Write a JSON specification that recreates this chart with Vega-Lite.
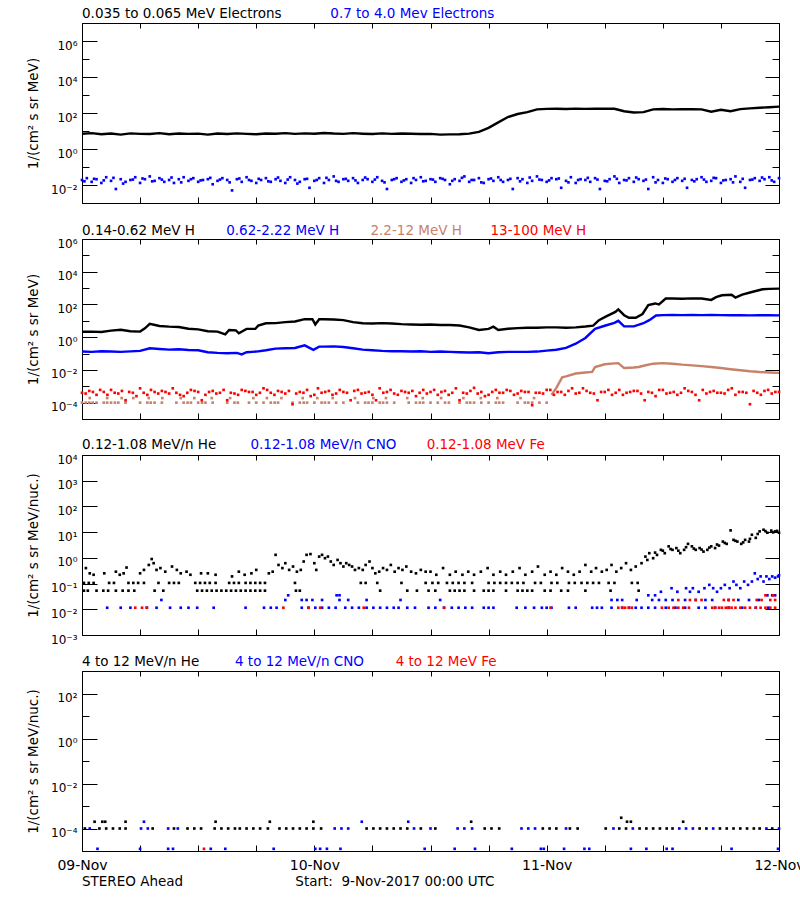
{
"$schema": "https://vega.github.io/schema/vega-lite/v6.json",
"background": "white",
"padding": {"left": 26, "top": 6, "right": 0, "bottom": 0},
"autosize": {"type": "pad"},
"spacing": 36,
"bounds": "flush",
"datasets": {
"a1": [{"h":0,"v":7.1},{"h":1,"v":7.6},{"h":2,"v":6.6},{"h":3,"v":7.2},{"h":4,"v":6.3},{"h":5,"v":7.4},{"h":6,"v":6.9},{"h":7,"v":6.8},{"h":8,"v":7.6},{"h":9,"v":6.6},{"h":10,"v":7.2},{"h":11,"v":6.9},{"h":12,"v":7.1},{"h":13,"v":6.3},{"h":14,"v":7.2},{"h":15,"v":6.8},{"h":16,"v":7.4},{"h":17,"v":6.9},{"h":18,"v":6.6},{"h":19,"v":7.2},{"h":20,"v":7.1},{"h":21,"v":7.6},{"h":22,"v":6.9},{"h":23,"v":7.4},{"h":24,"v":7.1},{"h":25,"v":7.8},{"h":26,"v":7.2},{"h":27,"v":6.9},{"h":28,"v":7.6},{"h":29,"v":7.1},{"h":30,"v":6.8},{"h":31,"v":7.4},{"h":32,"v":6.9},{"h":33,"v":7.2},{"h":34,"v":7.1},{"h":35,"v":6.8},{"h":36,"v":6.9},{"h":37,"v":6.3},{"h":38,"v":6.5},{"h":39,"v":6.6},{"h":40,"v":7.1},{"h":41,"v":9},{"h":42,"v":15},{"h":43,"v":30},{"h":44,"v":60},{"h":45,"v":88},{"h":46,"v":112},{"h":47,"v":160},{"h":48,"v":170},{"h":49,"v":172},{"h":50,"v":168},{"h":51,"v":175},{"h":52,"v":170},{"h":53,"v":173},{"h":54,"v":176},{"h":55,"v":172},{"h":56,"v":125},{"h":57,"v":107},{"h":58,"v":112},{"h":59,"v":160},{"h":60,"v":166},{"h":61,"v":160},{"h":62,"v":163},{"h":63,"v":165},{"h":64,"v":160},{"h":65,"v":118},{"h":66,"v":150},{"h":67,"v":125},{"h":68,"v":165},{"h":69,"v":180},{"h":70,"v":195},{"h":71,"v":210},{"h":72,"v":225}],
"a2": [{"h":0,"v":0.019},{"h":0.5,"v":0.024},{"h":1,"v":0.015},{"h":1.5,"v":0.021},{"h":2,"v":0.013},{"h":2.5,"v":0.027},{"h":3,"v":0.017},{"h":3.5,"v":0.006},{"h":4,"v":0.021},{"h":4.5,"v":0.015},{"h":5,"v":0.019},{"h":5.5,"v":0.027},{"h":6,"v":0.013},{"h":6.5,"v":0.021},{"h":7,"v":0.03},{"h":7.5,"v":0.017},{"h":8,"v":0.024},{"h":8.5,"v":0.015},{"h":9,"v":0.019},{"h":9.5,"v":0.013},{"h":10,"v":0.021},{"h":10.5,"v":0.027},{"h":11,"v":0.017},{"h":11.5,"v":0.024},{"h":12,"v":0.015},{"h":12.5,"v":0.019},{"h":13,"v":0.021},{"h":13.5,"v":0.011},{"h":14,"v":0.017},{"h":14.5,"v":0.024},{"h":15,"v":0.019},{"h":15.5,"v":0.005},{"h":16,"v":0.021},{"h":16.5,"v":0.015},{"h":17,"v":0.027},{"h":17.5,"v":0.017},{"h":18,"v":0.013},{"h":18.5,"v":0.019},{"h":19,"v":0.024},{"h":19.5,"v":0.015},{"h":20,"v":0.021},{"h":20.5,"v":0.017},{"h":21,"v":0.013},{"h":21.5,"v":0.027},{"h":22,"v":0.019},{"h":22.5,"v":0.015},{"h":23,"v":0.021},{"h":23.5,"v":0.007},{"h":24,"v":0.017},{"h":24.5,"v":0.024},{"h":25,"v":0.013},{"h":25.5,"v":0.019},{"h":26,"v":0.03},{"h":26.5,"v":0.015},{"h":27,"v":0.021},{"h":27.5,"v":0.017},{"h":28,"v":0.024},{"h":28.5,"v":0.013},{"h":29,"v":0.019},{"h":29.5,"v":0.021},{"h":30,"v":0.015},{"h":30.5,"v":0.027},{"h":31,"v":0.017},{"h":31.5,"v":0.006},{"h":32,"v":0.019},{"h":32.5,"v":0.024},{"h":33,"v":0.015},{"h":33.5,"v":0.021},{"h":34,"v":0.013},{"h":34.5,"v":0.019},{"h":35,"v":0.027},{"h":35.5,"v":0.017},{"h":36,"v":0.021},{"h":36.5,"v":0.015},{"h":37,"v":0.024},{"h":37.5,"v":0.019},{"h":38,"v":0.011},{"h":38.5,"v":0.021},{"h":39,"v":0.017},{"h":39.5,"v":0.03},{"h":40,"v":0.015},{"h":40.5,"v":0.019},{"h":41,"v":0.024},{"h":41.5,"v":0.013},{"h":42,"v":0.021},{"h":42.5,"v":0.017},{"h":43,"v":0.027},{"h":43.5,"v":0.015},{"h":44,"v":0.019},{"h":44.5,"v":0.006},{"h":45,"v":0.024},{"h":45.5,"v":0.021},{"h":46,"v":0.013},{"h":46.5,"v":0.017},{"h":47,"v":0.03},{"h":47.5,"v":0.019},{"h":48,"v":0.015},{"h":48.5,"v":0.024},{"h":49,"v":0.021},{"h":49.5,"v":0.007},{"h":50,"v":0.017},{"h":50.5,"v":0.027},{"h":51,"v":0.013},{"h":51.5,"v":0.021},{"h":52,"v":0.019},{"h":52.5,"v":0.015},{"h":53,"v":0.024},{"h":53.5,"v":0.006},{"h":54,"v":0.017},{"h":54.5,"v":0.021},{"h":55,"v":0.03},{"h":55.5,"v":0.013},{"h":56,"v":0.019},{"h":56.5,"v":0.024},{"h":57,"v":0.015},{"h":57.5,"v":0.021},{"h":58,"v":0.017},{"h":58.5,"v":0.006},{"h":59,"v":0.027},{"h":59.5,"v":0.019},{"h":60,"v":0.013},{"h":60.5,"v":0.021},{"h":61,"v":0.015},{"h":61.5,"v":0.024},{"h":62,"v":0.017},{"h":62.5,"v":0.007},{"h":63,"v":0.019},{"h":63.5,"v":0.021},{"h":64,"v":0.027},{"h":64.5,"v":0.015},{"h":65,"v":0.017},{"h":65.5,"v":0.024},{"h":66,"v":0.013},{"h":66.5,"v":0.019},{"h":67,"v":0.021},{"h":67.5,"v":0.03},{"h":68,"v":0.015},{"h":68.5,"v":0.007},{"h":69,"v":0.019},{"h":69.5,"v":0.024},{"h":70,"v":0.017},{"h":70.5,"v":0.021},{"h":71,"v":0.027},{"h":71.5,"v":0.015},{"h":72,"v":0.024},
{"h":0.25,"v":0.016},{"h":1.25,"v":0.022},{"h":2.25,"v":0.018},{"h":3.25,"v":0.025},{"h":4.25,"v":0.012},{"h":5.25,"v":0.02},{"h":6.25,"v":0.023},{"h":7.25,"v":0.016},{"h":8.25,"v":0.02},{"h":9.25,"v":0.026},{"h":10.25,"v":0.014},{"h":11.25,"v":0.021},{"h":12.25,"v":0.018},{"h":13.25,"v":0.025},{"h":14.25,"v":0.02},{"h":15.25,"v":0.014},{"h":16.25,"v":0.023},{"h":17.25,"v":0.019},{"h":18.25,"v":0.022},{"h":19.25,"v":0.016},{"h":20.25,"v":0.026},{"h":21.25,"v":0.02},{"h":22.25,"v":0.012},{"h":23.25,"v":0.022},{"h":24.25,"v":0.019},{"h":25.25,"v":0.025},{"h":26.25,"v":0.017},{"h":27.25,"v":0.022},{"h":28.25,"v":0.018},{"h":29.25,"v":0.026},{"h":30.25,"v":0.02},{"h":31.25,"v":0.014},{"h":32.25,"v":0.021},{"h":33.25,"v":0.018},{"h":34.25,"v":0.024},{"h":35.25,"v":0.016},{"h":36.25,"v":0.02},{"h":37.25,"v":0.022},{"h":38.25,"v":0.017},{"h":39.25,"v":0.025},{"h":40.25,"v":0.019},{"h":41.25,"v":0.014},{"h":42.25,"v":0.023},{"h":43.25,"v":0.019},{"h":44.25,"v":0.022},{"h":45.25,"v":0.016},{"h":46.25,"v":0.026},{"h":47.25,"v":0.02},{"h":48.25,"v":0.018},{"h":49.25,"v":0.023},{"h":50.25,"v":0.014},{"h":51.25,"v":0.019},{"h":52.25,"v":0.025},{"h":53.25,"v":0.02},{"h":54.25,"v":0.016},{"h":55.25,"v":0.022},{"h":56.25,"v":0.018},{"h":57.25,"v":0.026},{"h":58.25,"v":0.02},{"h":59.25,"v":0.014},{"h":60.25,"v":0.023},{"h":61.25,"v":0.019},{"h":62.25,"v":0.022},{"h":63.25,"v":0.016},{"h":64.25,"v":0.02},{"h":65.25,"v":0.025},{"h":66.25,"v":0.018},{"h":67.25,"v":0.014},{"h":68.25,"v":0.022},{"h":69.25,"v":0.02},{"h":70.25,"v":0.026},{"h":71.25,"v":0.018}],
"b1": [{"h":0,"v":2.14},{"h":1,"v":2.19},{"h":2,"v":2.09},{"h":3,"v":2.51},{"h":4,"v":2.82},{"h":5,"v":2.29},{"h":6,"v":2.19},{"h":6.5,"v":3.5},{"h":7,"v":6.6},{"h":8,"v":4.8},{"h":9,"v":4.4},{"h":10,"v":4.2},{"h":11,"v":3.3},{"h":12,"v":3.0},{"h":13,"v":2.3},{"h":14,"v":2.2},{"h":14.8,"v":1.5},{"h":15.2,"v":2.75},{"h":15.9,"v":2.6},{"h":16.2,"v":1.74},{"h":17,"v":3.2},{"h":17.9,"v":3.2},{"h":18.2,"v":5.1},{"h":19,"v":7.1},{"h":20,"v":7.2},{"h":21,"v":8.3},{"h":22,"v":9.1},{"h":23,"v":12.6},{"h":23.8,"v":12.6},{"h":24.1,"v":6.0},{"h":24.5,"v":12.6},{"h":25,"v":12.6},{"h":26,"v":12.0},{"h":27,"v":11.0},{"h":28,"v":8.3},{"h":29,"v":7.1},{"h":30,"v":6.9},{"h":31,"v":7.2},{"h":32,"v":6.9},{"h":33,"v":6.3},{"h":34,"v":6.0},{"h":35,"v":5.8},{"h":36,"v":6.0},{"h":37,"v":5.5},{"h":38,"v":5.5},{"h":39,"v":5.2},{"h":40,"v":4.0},{"h":41,"v":2.75},{"h":42,"v":3.2},{"h":42.5,"v":4.4},{"h":43,"v":2.75},{"h":44,"v":3.3},{"h":45,"v":3.6},{"h":46,"v":3.8},{"h":47,"v":3.8},{"h":48,"v":4.0},{"h":49,"v":4.0},{"h":50,"v":3.8},{"h":51,"v":4.0},{"h":52,"v":4.5},{"h":52.8,"v":5.1},{"h":53.4,"v":11},{"h":54.1,"v":18},{"h":55.1,"v":35},{"h":55.4,"v":50},{"h":56,"v":22},{"h":56.5,"v":15.5},{"h":57.2,"v":15.5},{"h":57.9,"v":26},{"h":58.5,"v":91},{"h":59.2,"v":115},{"h":59.6,"v":100},{"h":60.3,"v":229},{"h":61,"v":229},{"h":62,"v":224},{"h":63,"v":235},{"h":64,"v":229},{"h":65,"v":190},{"h":65.5,"v":280},{"h":66.1,"v":363},{"h":67.1,"v":390},{"h":67.5,"v":263},{"h":68.2,"v":400},{"h":69.2,"v":575},{"h":70.3,"v":850},{"h":71,"v":890},{"h":72,"v":933}],
"b2": [{"h":0,"v":0.132},{"h":1,"v":0.126},{"h":2,"v":0.138},{"h":3,"v":0.132},{"h":4,"v":0.126},{"h":5,"v":0.135},{"h":6,"v":0.145},{"h":7,"v":0.209},{"h":8,"v":0.191},{"h":9,"v":0.174},{"h":10,"v":0.182},{"h":11,"v":0.166},{"h":12,"v":0.158},{"h":13,"v":0.12},{"h":14,"v":0.11},{"h":15,"v":0.105},{"h":16,"v":0.11},{"h":16.5,"v":0.089},{"h":17,"v":0.12},{"h":18,"v":0.132},{"h":19,"v":0.158},{"h":20,"v":0.2},{"h":21,"v":0.209},{"h":22,"v":0.219},{"h":23,"v":0.316},{"h":23.9,"v":0.17},{"h":24.5,"v":0.263},{"h":25,"v":0.263},{"h":26,"v":0.275},{"h":27,"v":0.251},{"h":28,"v":0.209},{"h":29,"v":0.174},{"h":30,"v":0.158},{"h":31,"v":0.145},{"h":32,"v":0.138},{"h":33,"v":0.138},{"h":34,"v":0.132},{"h":35,"v":0.138},{"h":36,"v":0.126},{"h":37,"v":0.132},{"h":38,"v":0.126},{"h":39,"v":0.12},{"h":40,"v":0.115},{"h":41,"v":0.12},{"h":42,"v":0.105},{"h":43,"v":0.12},{"h":44,"v":0.126},{"h":45,"v":0.126},{"h":46,"v":0.126},{"h":47,"v":0.132},{"h":48,"v":0.15},{"h":49,"v":0.17},{"h":50,"v":0.22},{"h":51,"v":0.4},{"h":52,"v":0.9},{"h":53,"v":3.2},{"h":54,"v":5.0},{"h":55,"v":7.5},{"h":55.4,"v":10},{"h":56,"v":4.6},{"h":57,"v":4.6},{"h":58,"v":7.1},{"h":58.6,"v":11},{"h":59.3,"v":21},{"h":60,"v":22.4},{"h":61,"v":22.9},{"h":62,"v":22.4},{"h":63,"v":22.9},{"h":64,"v":22.4},{"h":65,"v":22.9},{"h":66,"v":22.4},{"h":67,"v":21.9},{"h":68,"v":22.4},{"h":69,"v":21.4},{"h":70,"v":21.9},{"h":71,"v":21.9},{"h":72,"v":21.4}],
"b3d": [{"h":0,"v":0.0001},{"h":0.75,"v":0.0001},{"h":1.5,"v":0.0001},{"h":2.25,"v":0.0001},{"h":3,"v":0.0001},{"h":3.75,"v":0.0001},{"h":4.5,"v":0.0001},{"h":6,"v":0.0001},{"h":6.75,"v":0.0001},{"h":7.5,"v":0.0001},{"h":8.25,"v":0.0001},{"h":9.75,"v":0.0001},{"h":10.5,"v":0.0001},{"h":11.25,"v":0.0001},{"h":12,"v":0.0001},{"h":12.75,"v":0.0001},{"h":13.5,"v":0.0001},{"h":15,"v":0.0001},{"h":15.75,"v":0.0001},{"h":17.25,"v":0.0001},{"h":18,"v":0.0001},{"h":18.75,"v":0.0001},{"h":19.5,"v":0.0001},{"h":20.25,"v":0.0001},{"h":21.75,"v":0.0001},{"h":22.5,"v":0.0001},{"h":23.25,"v":0.0001},{"h":24,"v":0.0001},{"h":24.75,"v":0.0001},{"h":25.5,"v":0.0001},{"h":26.25,"v":0.0001},{"h":27,"v":0.0001},{"h":28.5,"v":0.0001},{"h":29.25,"v":0.0001},{"h":30,"v":0.0001},{"h":30.75,"v":0.0001},{"h":31.5,"v":0.0001},{"h":32.25,"v":0.0001},{"h":33.75,"v":0.0001},{"h":34.5,"v":0.0001},{"h":35.25,"v":0.0001},{"h":36,"v":0.0001},{"h":36.75,"v":0.0001},{"h":37.5,"v":0.0001},{"h":39,"v":0.0001},{"h":39.75,"v":0.0001},{"h":40.5,"v":0.0001},{"h":41.25,"v":0.0001},{"h":42,"v":0.0001},{"h":42.75,"v":0.0001},{"h":43.5,"v":0.0001},{"h":45,"v":0.0001},{"h":45.75,"v":0.0001},{"h":46.5,"v":0.0001},{"h":47.25,"v":0.0001},{"h":48,"v":0.0001},{"h":0.4,"v":0.0001},{"h":1.1,"v":0.0001},{"h":2.6,"v":0.0001},{"h":3.4,"v":0.0001},{"h":7.1,"v":0.0001},{"h":10.9,"v":0.0001},{"h":12.4,"v":0.0001},{"h":16.1,"v":0.0001},{"h":19.9,"v":0.0001},{"h":22.9,"v":0.0001},{"h":25.1,"v":0.0001},{"h":29.6,"v":0.0001},{"h":31.1,"v":0.0001},{"h":34.9,"v":0.0001},{"h":37.9,"v":0.0001},{"h":40.1,"v":0.0001},{"h":43.1,"v":0.0001},{"h":46.1,"v":0.0001},{"h":0.8,"v":0.00019},{"h":2.6,"v":0.00019},{"h":4.1,"v":0.00019},{"h":5.3,"v":0.00019},{"h":6.9,"v":0.00019},{"h":8.3,"v":0.00019},{"h":10.2,"v":0.00019},{"h":11.6,"v":0.00019},{"h":13.4,"v":0.00019},{"h":15.3,"v":0.00019},{"h":17.7,"v":0.00019},{"h":19.1,"v":0.00019},{"h":20.6,"v":0.00019},{"h":22.8,"v":0.00019},{"h":24.3,"v":0.00019},{"h":25.9,"v":0.00019},{"h":28.2,"v":0.00019},{"h":30.1,"v":0.00019},{"h":31.4,"v":0.00019},{"h":33.6,"v":0.00019},{"h":35.2,"v":0.00019},{"h":37.1,"v":0.00019},{"h":39.4,"v":0.00019},{"h":41.2,"v":0.00019},{"h":42.9,"v":0.00019},{"h":45.3,"v":0.00019},{"h":46.7,"v":0.00019}],
"b3l": [{"h":48.5,"v":0.0003},{"h":49,"v":0.0008},{"h":49.6,"v":0.0035},{"h":50,"v":0.004},{"h":51,"v":0.006},{"h":52,"v":0.007},{"h":52.7,"v":0.0075},{"h":53,"v":0.015},{"h":54,"v":0.022},{"h":55,"v":0.025},{"h":55.4,"v":0.026},{"h":56,"v":0.013},{"h":57,"v":0.014},{"h":57.5,"v":0.015},{"h":58,"v":0.018},{"h":59,"v":0.024},{"h":60,"v":0.026},{"h":61,"v":0.024},{"h":62,"v":0.021},{"h":63,"v":0.019},{"h":64,"v":0.017},{"h":65,"v":0.015},{"h":66,"v":0.013},{"h":67,"v":0.011},{"h":68,"v":0.0095},{"h":69,"v":0.0083},{"h":70,"v":0.0075},{"h":71,"v":0.007},{"h":72,"v":0.0066}],
"b4": [{"h":0,"v":0.0004},{"h":0.75,"v":0.00052},{"h":1.5,"v":0.0003},{"h":2.25,"v":0.00045},{"h":3,"v":0.0006},{"h":3.75,"v":0.00036},{"h":4.5,"v":0.00014},{"h":5.25,"v":0.0004},{"h":6,"v":0.00075},{"h":6.75,"v":0.0003},{"h":7.5,"v":0.00045},{"h":8.25,"v":0.00052},{"h":9,"v":0.00036},{"h":9.75,"v":0.0004},{"h":10.5,"v":0.00025},{"h":11.25,"v":0.0006},{"h":12,"v":0.00045},{"h":12.75,"v":0.0003},{"h":13.5,"v":0.00052},{"h":14.25,"v":0.0004},{"h":15,"v":0.00014},{"h":15.75,"v":0.00036},{"h":16.5,"v":0.0006},{"h":17.25,"v":0.00045},{"h":18,"v":0.0003},{"h":18.75,"v":0.00075},{"h":19.5,"v":0.0004},{"h":20.25,"v":0.00052},{"h":21,"v":0.00036},{"h":21.75,"v":0.00008},{"h":22.5,"v":0.00045},{"h":23.25,"v":0.0006},{"h":24,"v":0.0003},{"h":24.75,"v":0.0004},{"h":25.5,"v":0.00052},{"h":26.25,"v":0.00036},{"h":27,"v":0.00045},{"h":27.75,"v":0.00014},{"h":28.5,"v":0.0006},{"h":29.25,"v":0.0004},{"h":30,"v":0.0003},{"h":30.75,"v":0.00075},{"h":31.5,"v":0.00045},{"h":32.25,"v":0.00036},{"h":33,"v":0.00052},{"h":33.75,"v":0.0004},{"h":34.5,"v":0.00025},{"h":35.25,"v":0.0006},{"h":36,"v":0.00045},{"h":36.75,"v":0.0003},{"h":37.5,"v":0.00052},{"h":38.25,"v":0.0004},{"h":39,"v":0.00014},{"h":39.75,"v":0.00036},{"h":40.5,"v":0.0008},{"h":41.25,"v":0.00045},{"h":42,"v":0.0003},{"h":42.75,"v":0.0006},{"h":43.5,"v":0.0004},{"h":44.25,"v":0.00052},{"h":45,"v":0.00036},{"h":45.75,"v":0.00045},{"h":46.5,"v":0.00007},{"h":47.25,"v":0.0004},{"h":48,"v":0.0006},{"h":48.75,"v":0.0003},{"h":49.5,"v":0.00045},{"h":50.25,"v":0.00052},{"h":51,"v":0.00036},{"h":51.75,"v":0.00075},{"h":52.5,"v":0.0004},{"h":53.25,"v":0.00014},{"h":54,"v":0.00045},{"h":54.75,"v":0.0003},{"h":55.5,"v":0.0006},{"h":56.25,"v":0.0004},{"h":57,"v":0.00052},{"h":57.75,"v":0.00036},{"h":58.5,"v":0.00045},{"h":59.25,"v":0.00025},{"h":60,"v":0.0006},{"h":60.75,"v":0.0004},{"h":61.5,"v":0.0003},{"h":62.25,"v":0.00075},{"h":63,"v":0.00045},{"h":63.75,"v":0.00014},{"h":64.5,"v":0.00036},{"h":65.25,"v":0.00052},{"h":66,"v":0.0004},{"h":66.75,"v":0.0006},{"h":67.5,"v":0.0003},{"h":68.25,"v":0.00045},{"h":69,"v":0.00008},{"h":69.75,"v":0.0004},{"h":70.5,"v":0.00052},{"h":71.25,"v":0.00036},{"h":72,"v":0.00045},
{"h":0.375,"v":0.00036},{"h":1.125,"v":0.00045},{"h":1.875,"v":0.0006},{"h":2.625,"v":0.0003},{"h":3.375,"v":0.0004},{"h":4.125,"v":0.00052},{"h":4.875,"v":0.00045},{"h":5.625,"v":0.00025},{"h":6.375,"v":0.0004},{"h":7.125,"v":0.0006},{"h":7.875,"v":0.00036},{"h":8.625,"v":0.00045},{"h":9.375,"v":0.00075},{"h":10.125,"v":0.0003},{"h":10.875,"v":0.0004},{"h":11.625,"v":0.00052},{"h":12.375,"v":0.00014},{"h":13.125,"v":0.00045},{"h":13.875,"v":0.00036},{"h":14.625,"v":0.0006},{"h":15.375,"v":0.0004},{"h":16.125,"v":0.0003},{"h":16.875,"v":0.00052},{"h":17.625,"v":0.00045},{"h":18.375,"v":0.0004},{"h":19.125,"v":0.0006},{"h":19.875,"v":0.0003},{"h":20.625,"v":0.00045},{"h":21.375,"v":0.00052},{"h":22.125,"v":0.00036},{"h":22.875,"v":0.0004},{"h":23.625,"v":0.00025},{"h":24.375,"v":0.00075},{"h":25.125,"v":0.00045},{"h":25.875,"v":0.0003},{"h":26.625,"v":0.0006},{"h":27.375,"v":0.0004},{"h":28.125,"v":0.00052},{"h":28.875,"v":0.00036},{"h":29.625,"v":0.00045},{"h":30.375,"v":0.00014},{"h":31.125,"v":0.0004},{"h":31.875,"v":0.0006},{"h":32.625,"v":0.0003},{"h":33.375,"v":0.00045},{"h":34.125,"v":0.00052},{"h":34.875,"v":0.0004},{"h":35.625,"v":0.00036},{"h":36.375,"v":0.0006},{"h":37.125,"v":0.00045},{"h":37.875,"v":0.0003},{"h":38.625,"v":0.00075},{"h":39.375,"v":0.0004},{"h":40.125,"v":0.00052},{"h":40.875,"v":0.00036},{"h":41.625,"v":0.00025},{"h":42.375,"v":0.00045},{"h":43.125,"v":0.0004},{"h":43.875,"v":0.0006},{"h":44.625,"v":0.0003},{"h":45.375,"v":0.00052},{"h":46.125,"v":0.00045},{"h":46.875,"v":0.0004},{"h":47.625,"v":0.00036},{"h":48.375,"v":0.0006},{"h":49.125,"v":0.00045},{"h":49.875,"v":0.0003},{"h":50.625,"v":0.00075},{"h":51.375,"v":0.0004},{"h":52.125,"v":0.00052},{"h":52.875,"v":0.00036},{"h":53.625,"v":0.00045},{"h":54.375,"v":0.0006},{"h":55.125,"v":0.0004},{"h":55.875,"v":0.0003},{"h":56.625,"v":0.00045},{"h":57.375,"v":0.00052},{"h":58.125,"v":0.00014},{"h":58.875,"v":0.0004},{"h":59.625,"v":0.0006},{"h":60.375,"v":0.00036},{"h":61.125,"v":0.00045},{"h":61.875,"v":0.0004},{"h":62.625,"v":0.00052},{"h":63.375,"v":0.0003},{"h":64.125,"v":0.0006},{"h":64.875,"v":0.00045},{"h":65.625,"v":0.0004},{"h":66.375,"v":0.00036},{"h":67.125,"v":0.00075},{"h":67.875,"v":0.00045},{"h":68.625,"v":0.0004},{"h":69.375,"v":0.00052},{"h":70.125,"v":0.0003},{"h":70.875,"v":0.0006},{"h":71.625,"v":0.00045}],
"c1": [{"h":0.2,"v":0.053},{"h":0.6,"v":0.053},{"h":1.5,"v":0.053},{"h":2.2,"v":0.053},{"h":2.7,"v":0.053},{"h":3.5,"v":0.053},{"h":4.2,"v":0.053},{"h":4.8,"v":0.053},{"h":5.4,"v":0.053},{"h":7.5,"v":0.053},{"h":8.4,"v":0.053},{"h":11.9,"v":0.053},{"h":12.4,"v":0.053},{"h":12.9,"v":0.053},{"h":13.4,"v":0.053},{"h":13.9,"v":0.053},{"h":14.4,"v":0.053},{"h":14.9,"v":0.053},{"h":15.4,"v":0.053},{"h":15.9,"v":0.053},{"h":16.4,"v":0.053},{"h":16.9,"v":0.053},{"h":17.4,"v":0.053},{"h":17.9,"v":0.053},{"h":18.4,"v":0.053},{"h":18.9,"v":0.053},{"h":22.1,"v":0.053},{"h":22.5,"v":0.053},{"h":30.8,"v":0.053},{"h":33.6,"v":0.053},{"h":34.6,"v":0.053},{"h":35.8,"v":0.053},{"h":36.5,"v":0.053},{"h":38,"v":0.053},{"h":38.5,"v":0.053},{"h":39,"v":0.053},{"h":39.5,"v":0.053},{"h":40.5,"v":0.053},{"h":41.5,"v":0.053},{"h":42,"v":0.053},{"h":42.5,"v":0.053},{"h":43.8,"v":0.053},{"h":45,"v":0.053},{"h":45.5,"v":0.053},{"h":46,"v":0.053},{"h":46.5,"v":0.053},{"h":47.8,"v":0.053},{"h":48.4,"v":0.053},{"h":49.5,"v":0.053},{"h":50.2,"v":0.053},{"h":52,"v":0.053},{"h":54.6,"v":0.053},{"h":57.5,"v":0.053},
{"h":0.2,"v":0.106},{"h":0.7,"v":0.106},{"h":1.2,"v":0.106},{"h":2.8,"v":0.106},{"h":3.3,"v":0.106},{"h":4.8,"v":0.106},{"h":5.3,"v":0.106},{"h":5.8,"v":0.106},{"h":6.4,"v":0.106},{"h":7.9,"v":0.106},{"h":9,"v":0.106},{"h":9.5,"v":0.106},{"h":10,"v":0.106},{"h":11.7,"v":0.106},{"h":12.2,"v":0.106},{"h":12.7,"v":0.106},{"h":13.2,"v":0.106},{"h":13.8,"v":0.106},{"h":15.2,"v":0.106},{"h":15.7,"v":0.106},{"h":16.2,"v":0.106},{"h":16.9,"v":0.106},{"h":17.4,"v":0.106},{"h":17.9,"v":0.106},{"h":18.4,"v":0.106},{"h":18.9,"v":0.106},{"h":22,"v":0.106},{"h":28.8,"v":0.106},{"h":29.3,"v":0.106},{"h":30.5,"v":0.106},{"h":33,"v":0.106},{"h":35.5,"v":0.106},{"h":36.2,"v":0.106},{"h":36.8,"v":0.106},{"h":37.7,"v":0.106},{"h":38.3,"v":0.106},{"h":38.9,"v":0.106},{"h":39.5,"v":0.106},{"h":40.3,"v":0.106},{"h":42,"v":0.106},{"h":42.6,"v":0.106},{"h":43.2,"v":0.106},{"h":43.8,"v":0.106},{"h":44.4,"v":0.106},{"h":45,"v":0.106},{"h":45.6,"v":0.106},{"h":46.8,"v":0.106},{"h":47.4,"v":0.106},{"h":48.5,"v":0.106},{"h":49.1,"v":0.106},{"h":50.3,"v":0.106},{"h":50.9,"v":0.106},{"h":51.6,"v":0.106},{"h":52.2,"v":0.106},{"h":52.8,"v":0.106},{"h":53.4,"v":0.106},{"h":54.4,"v":0.106},{"h":55,"v":0.106},{"h":56.8,"v":0.106},{"h":57.4,"v":0.106},
{"h":0.4,"v":0.4},{"h":0.8,"v":0.25},{"h":1.2,"v":0.22},{"h":2.3,"v":0.25},{"h":3.5,"v":0.29},{"h":3.9,"v":0.22},{"h":4.3,"v":0.25},{"h":4.6,"v":0.42},{"h":6,"v":0.25},{"h":6.4,"v":0.34},{"h":6.9,"v":0.53},{"h":7.2,"v":0.9},{"h":7.4,"v":0.62},{"h":7.7,"v":0.34},{"h":8.1,"v":0.4},{"h":8.6,"v":0.29},{"h":9.3,"v":0.46},{"h":9.8,"v":0.34},{"h":10.2,"v":0.25},{"h":10.8,"v":0.29},{"h":11.2,"v":0.22},{"h":12.3,"v":0.25},{"h":13,"v":0.25},{"h":13.8,"v":0.22},{"h":15.5,"v":0.19},{"h":16.2,"v":0.29},{"h":16.8,"v":0.22},{"h":17.5,"v":0.25},{"h":18,"v":0.34},{"h":19.3,"v":0.25},{"h":19.7,"v":0.29},{"h":20,"v":1.31},{"h":20.3,"v":0.53},{"h":20.7,"v":0.4},{"h":21,"v":0.62},{"h":21.4,"v":0.34},{"h":21.8,"v":0.46},{"h":22.2,"v":0.29},{"h":22.6,"v":0.34},{"h":22.9,"v":0.72},{"h":23.2,"v":1.31},{"h":23.6,"v":1.4},{"h":24,"v":0.62},{"h":24.2,"v":0.34},{"h":24.5,"v":1.12},{"h":24.8,"v":1.31},{"h":25.1,"v":0.97},{"h":25.4,"v":1.12},{"h":25.7,"v":0.72},{"h":26,"v":0.53},{"h":26.4,"v":0.83},{"h":26.7,"v":0.62},{"h":27,"v":0.46},{"h":27.3,"v":0.62},{"h":27.6,"v":0.53},{"h":27.9,"v":0.46},{"h":28.2,"v":0.34},{"h":28.6,"v":0.4},{"h":29,"v":0.34},{"h":29.3,"v":0.53},{"h":29.7,"v":0.72},{"h":30,"v":0.4},{"h":30.3,"v":0.25},{"h":30.7,"v":0.29},{"h":31.1,"v":0.4},{"h":31.5,"v":0.34},{"h":31.9,"v":0.53},{"h":32.3,"v":0.29},{"h":32.7,"v":0.4},{"h":33.1,"v":0.34},{"h":33.5,"v":0.46},{"h":34,"v":0.29},{"h":34.5,"v":0.25},{"h":35,"v":0.34},{"h":35.5,"v":0.29},{"h":36,"v":0.29},{"h":36.6,"v":0.22},{"h":37.3,"v":0.4},{"h":38,"v":0.22},{"h":38.6,"v":0.29},{"h":39.3,"v":0.22},{"h":39.9,"v":0.29},{"h":40.5,"v":0.22},{"h":41.2,"v":0.29},{"h":41.9,"v":0.4},{"h":42.5,"v":0.22},{"h":43.2,"v":0.29},{"h":43.8,"v":0.22},{"h":44.5,"v":0.29},{"h":45.2,"v":0.4},{"h":45.8,"v":0.22},{"h":46.5,"v":0.29},{"h":47.1,"v":0.46},{"h":47.8,"v":0.22},{"h":48.4,"v":0.29},{"h":49,"v":0.22},{"h":49.6,"v":0.4},{"h":50.2,"v":0.29},{"h":50.8,"v":0.22},{"h":51.4,"v":0.29},{"h":52,"v":0.53},{"h":52.6,"v":0.29},{"h":53.1,"v":0.4},{"h":53.7,"v":0.29},{"h":54.2,"v":0.34},{"h":54.7,"v":0.53},{"h":55.2,"v":0.29},{"h":55.7,"v":0.4},{"h":56.2,"v":0.62},{"h":56.7,"v":0.34},{"h":57.2,"v":0.46},{"h":57.8,"v":0.62},{"h":58.2,"v":1.12},{"h":58.6,"v":1.52},{"h":59,"v":0.97},{"h":59.4,"v":1.3},{"h":59.8,"v":2.05},{"h":60.2,"v":1.52},{"h":60.6,"v":2.8},{"h":61,"v":2.05},{"h":61.4,"v":2.4},{"h":61.8,"v":1.52},{"h":62.2,"v":2.05},{"h":62.6,"v":3.5},{"h":63,"v":2.8},{"h":63.4,"v":2.05},{"h":63.8,"v":2.4},{"h":64.2,"v":1.75},{"h":64.6,"v":2.05},{"h":65,"v":2.8},{"h":65.4,"v":2.4},{"h":65.8,"v":3.0},{"h":66.2,"v":4.3},{"h":66.6,"v":3.5},{"h":67,"v":11.7},{"h":67.3,"v":5.0},{"h":67.7,"v":4.3},{"h":68.1,"v":3.5},{"h":68.5,"v":5.0},{"h":68.9,"v":4.3},{"h":69.2,"v":7.9},{"h":69.6,"v":6.0},{"h":70,"v":10.7},{"h":70.4,"v":12.4},{"h":70.8,"v":9.5},{"h":71.2,"v":11.5},{"h":71.6,"v":10.7},{"h":72,"v":9.5},
{"h":58.4,"v":0.83},{"h":59.2,"v":1.6},{"h":60,"v":1.9},{"h":60.8,"v":2.2},{"h":61.6,"v":1.9},{"h":62.4,"v":2.6},{"h":63.2,"v":2.3},{"h":64,"v":2.1},{"h":64.8,"v":2.5},{"h":65.6,"v":3.3},{"h":66.4,"v":3.8},{"h":67.5,"v":4.6},{"h":68.3,"v":4.0},{"h":69,"v":5.5},{"h":69.8,"v":8.5},{"h":70.6,"v":11},{"h":71.4,"v":9.8},{"h":71.8,"v":11.2}],
"c2": [{"h":2.6,"v":0.0115},{"h":4,"v":0.0115},{"h":5,"v":0.0115},{"h":6.7,"v":0.0115},{"h":7.7,"v":0.0115},{"h":9.1,"v":0.0115},{"h":10.2,"v":0.0115},{"h":11,"v":0.0115},{"h":11.9,"v":0.0115},{"h":13.6,"v":0.0115},{"h":16.9,"v":0.0115},{"h":18.8,"v":0.0115},{"h":19.5,"v":0.0115},{"h":20.1,"v":0.0115},{"h":22.7,"v":0.0115},{"h":23.4,"v":0.0115},{"h":24.1,"v":0.0115},{"h":24.8,"v":0.0115},{"h":25.5,"v":0.0115},{"h":26.2,"v":0.0115},{"h":27.2,"v":0.0115},{"h":27.9,"v":0.0115},{"h":28.6,"v":0.0115},{"h":29.4,"v":0.0115},{"h":30.1,"v":0.0115},{"h":30.8,"v":0.0115},{"h":31.5,"v":0.0115},{"h":32.2,"v":0.0115},{"h":32.7,"v":0.0115},{"h":33.6,"v":0.0115},{"h":34.4,"v":0.0115},{"h":35.8,"v":0.0115},{"h":36.5,"v":0.0115},{"h":37.4,"v":0.0115},{"h":38.2,"v":0.0115},{"h":38.9,"v":0.0115},{"h":39.6,"v":0.0115},{"h":40.3,"v":0.0115},{"h":41.5,"v":0.0115},{"h":42,"v":0.0115},{"h":42.5,"v":0.0115},{"h":44.9,"v":0.0115},{"h":45.8,"v":0.0115},{"h":46.7,"v":0.0115},{"h":47.5,"v":0.0115},{"h":48,"v":0.0115},{"h":48.5,"v":0.0115},{"h":50.3,"v":0.0115},{"h":51,"v":0.0115},{"h":52.7,"v":0.0115},{"h":53.2,"v":0.0115},{"h":53.7,"v":0.0115},{"h":54.7,"v":0.0115},{"h":55.8,"v":0.0115},{"h":56.5,"v":0.0115},{"h":57.2,"v":0.0115},{"h":57.8,"v":0.0115},{"h":58.5,"v":0.0115},{"h":59.2,"v":0.0115},{"h":60.3,"v":0.0115},{"h":61.3,"v":0.0115},{"h":62.3,"v":0.0115},{"h":63.7,"v":0.0115},{"h":64.4,"v":0.0115},{"h":65.4,"v":0.0115},{"h":66.8,"v":0.0115},{"h":68.2,"v":0.0115},{"h":69.6,"v":0.0115},{"h":70.9,"v":0.0115},
{"h":8.2,"v":0.023},{"h":21,"v":0.023},{"h":22.7,"v":0.023},{"h":23.2,"v":0.023},{"h":23.8,"v":0.023},{"h":24.8,"v":0.023},{"h":26.6,"v":0.023},{"h":27.5,"v":0.023},{"h":29.4,"v":0.023},{"h":32.9,"v":0.023},{"h":37,"v":0.023},{"h":54.7,"v":0.023},{"h":55.3,"v":0.023},{"h":55.8,"v":0.023},{"h":57.3,"v":0.023},{"h":58.9,"v":0.023},{"h":59.6,"v":0.023},{"h":60.3,"v":0.023},{"h":61,"v":0.023},{"h":62.3,"v":0.023},{"h":63.4,"v":0.023},{"h":64.4,"v":0.023},{"h":65.1,"v":0.023},{"h":66.8,"v":0.023},{"h":67.8,"v":0.023},{"h":68.9,"v":0.023},{"h":69.9,"v":0.023},
{"h":21.3,"v":0.035},{"h":26.3,"v":0.035},{"h":26.6,"v":0.035},{"h":58.5,"v":0.035},{"h":59.2,"v":0.035},{"h":70.8,"v":0.035},{"h":71.3,"v":0.035},{"h":71.6,"v":0.035},
{"h":59.8,"v":0.048},{"h":60.9,"v":0.066},{"h":61.5,"v":0.048},{"h":62.4,"v":0.066},{"h":62.8,"v":0.048},{"h":63.1,"v":0.066},{"h":63.7,"v":0.048},{"h":64.3,"v":0.066},{"h":64.8,"v":0.089},{"h":65.2,"v":0.066},{"h":65.6,"v":0.048},{"h":66,"v":0.066},{"h":66.4,"v":0.089},{"h":66.9,"v":0.066},{"h":67.3,"v":0.12},{"h":67.6,"v":0.089},{"h":68,"v":0.066},{"h":68.4,"v":0.12},{"h":68.8,"v":0.089},{"h":69.2,"v":0.12},{"h":69.5,"v":0.25},{"h":69.8,"v":0.15},{"h":70.1,"v":0.19},{"h":70.4,"v":0.12},{"h":70.7,"v":0.19},{"h":71,"v":0.15},{"h":71.3,"v":0.19},{"h":71.6,"v":0.17},{"h":71.9,"v":0.19},{"h":72,"v":0.21}],
"c3": [{"h":5.5,"v":0.0115},{"h":6.2,"v":0.0115},{"h":6.7,"v":0.0115},{"h":20.8,"v":0.0115},{"h":23.4,"v":0.0115},{"h":24.6,"v":0.0115},{"h":29.1,"v":0.0115},{"h":37.4,"v":0.0115},{"h":48.4,"v":0.0115},{"h":55.4,"v":0.0115},{"h":55.8,"v":0.0115},{"h":56.1,"v":0.0115},{"h":56.5,"v":0.0115},{"h":56.8,"v":0.0115},{"h":59.9,"v":0.0115},{"h":60.6,"v":0.0115},{"h":61.1,"v":0.0115},{"h":61.6,"v":0.0115},{"h":62.1,"v":0.0115},{"h":62.7,"v":0.0115},{"h":65.1,"v":0.0115},{"h":65.4,"v":0.0115},{"h":65.8,"v":0.0115},{"h":66.1,"v":0.0115},{"h":66.5,"v":0.0115},{"h":66.8,"v":0.0115},{"h":67.1,"v":0.0115},{"h":67.5,"v":0.0115},{"h":68,"v":0.0115},{"h":68.5,"v":0.0115},{"h":69,"v":0.0115},{"h":69.6,"v":0.0115},{"h":70.1,"v":0.0115},{"h":70.6,"v":0.0115},{"h":71.1,"v":0.0115},{"h":71.6,"v":0.0115},{"h":61.6,"v":0.023},{"h":62.8,"v":0.023},{"h":63.4,"v":0.023},{"h":64,"v":0.023},{"h":66.3,"v":0.023},{"h":66.8,"v":0.023},{"h":67.3,"v":0.023},{"h":69.7,"v":0.023},{"h":70.2,"v":0.023},{"h":71.1,"v":0.023},{"h":71.6,"v":0.023},{"h":70.6,"v":0.035},{"h":71.4,"v":0.035}],
"d1": [{"h":1.3,"v":0.0002},{"h":2.1,"v":0.0002},{"h":2.4,"v":0.0002},{"h":4.5,"v":0.0002},{"h":13.8,"v":0.0002},{"h":19.4,"v":0.0002},{"h":23.9,"v":0.0002},{"h":40.2,"v":0.0002},{"h":55.7,"v":0.0003},{"h":56.3,"v":0.0002},{"h":56.7,"v":0.0002},{"h":62.1,"v":0.0002},{"h":0.3,"v":0.0001},{"h":1.8,"v":0.0001},{"h":2.5,"v":0.0001},{"h":3.2,"v":0.0001},{"h":3.9,"v":0.0001},{"h":4.5,"v":0.0001},{"h":7.3,"v":0.0001},{"h":9.5,"v":0.0001},{"h":10.9,"v":0.0001},{"h":11.6,"v":0.0001},{"h":12.3,"v":0.0001},{"h":13.7,"v":0.0001},{"h":14.4,"v":0.0001},{"h":15.1,"v":0.0001},{"h":15.8,"v":0.0001},{"h":16.3,"v":0.0001},{"h":17,"v":0.0001},{"h":17.7,"v":0.0001},{"h":18.4,"v":0.0001},{"h":19.2,"v":0.0001},{"h":20.4,"v":0.0001},{"h":21.1,"v":0.0001},{"h":21.8,"v":0.0001},{"h":22.5,"v":0.0001},{"h":23.2,"v":0.0001},{"h":23.9,"v":0.0001},{"h":24.7,"v":0.0001},{"h":29.4,"v":0.0001},{"h":30.1,"v":0.0001},{"h":30.8,"v":0.0001},{"h":31.5,"v":0.0001},{"h":32.2,"v":0.0001},{"h":32.9,"v":0.0001},{"h":33.6,"v":0.0001},{"h":35,"v":0.0001},{"h":36.5,"v":0.0001},{"h":41.6,"v":0.0001},{"h":42.3,"v":0.0001},{"h":43.1,"v":0.0001},{"h":47.6,"v":0.0001},{"h":48.3,"v":0.0001},{"h":49,"v":0.0001},{"h":50.4,"v":0.0001},{"h":51.2,"v":0.0001},{"h":54.1,"v":0.0001},{"h":55.5,"v":0.0001},{"h":56.2,"v":0.0001},{"h":57.6,"v":0.0001},{"h":58.3,"v":0.0001},{"h":59,"v":0.0001},{"h":59.7,"v":0.0001},{"h":60.4,"v":0.0001},{"h":61,"v":0.0001},{"h":63.8,"v":0.0001},{"h":64.5,"v":0.0001},{"h":65.9,"v":0.0001},{"h":66.6,"v":0.0001},{"h":67.3,"v":0.0001},{"h":68,"v":0.0001},{"h":68.7,"v":0.0001},{"h":69.4,"v":0.0001},{"h":70,"v":0.0001},{"h":71.3,"v":0.0001}],
"d2": [{"h":6.4,"v":0.0002},{"h":28.9,"v":0.0002},{"h":33.7,"v":0.0002},{"h":0.8,"v":0.0001},{"h":6.1,"v":0.0001},{"h":6.8,"v":0.0001},{"h":8.9,"v":0.0001},{"h":9.9,"v":0.0001},{"h":26.1,"v":0.0001},{"h":26.8,"v":0.0001},{"h":27.5,"v":0.0001},{"h":34.3,"v":0.0001},{"h":36,"v":0.0001},{"h":38.8,"v":0.0001},{"h":39.5,"v":0.0001},{"h":40.3,"v":0.0001},{"h":45.4,"v":0.0001},{"h":46.1,"v":0.0001},{"h":46.8,"v":0.0001},{"h":50,"v":0.0001},{"h":54.9,"v":0.0001},{"h":56.9,"v":0.0001},{"h":61.7,"v":0.0001},{"h":62.4,"v":0.0001},{"h":63.1,"v":0.0001},{"h":65.2,"v":0.0001},{"h":70.7,"v":0.0001},{"h":72,"v":0.0001},{"h":1.6,"v":0.0000125},{"h":6,"v":0.0000125},{"h":8.9,"v":0.0000125},{"h":9.4,"v":0.0000125},{"h":13.3,"v":0.0000125},{"h":14.8,"v":0.0000125},{"h":19.8,"v":0.0000125},{"h":24.1,"v":0.0000125},{"h":24.6,"v":0.0000125},{"h":25.3,"v":0.0000125},{"h":26.7,"v":0.0000125},{"h":35.4,"v":0.0000125},{"h":38.5,"v":0.0000125},{"h":40.6,"v":0.0000125},{"h":44.4,"v":0.0000125},{"h":47.4,"v":0.0000125},{"h":47.7,"v":0.0000125},{"h":49.8,"v":0.0000125},{"h":51.9,"v":0.0000125},{"h":52.4,"v":0.0000125},{"h":56.7,"v":0.0000125},{"h":58.3,"v":0.0000125},{"h":60.4,"v":0.0000125},{"h":61,"v":0.0000125},{"h":67.1,"v":0.0000125},{"h":71.9,"v":0.0000125}],
"d3": [{"h":12.6,"v":0.0000125}]
},
"vconcat": [
{
"width": 697, "height": 180,
"layer": [
{"data": {"name": "a1"}, "mark": {"type": "line", "color": "#000000", "strokeWidth": 2.4},
 "encoding": {
  "x": {"field": "h", "type": "quantitative", "scale": {"domain": [0, 72], "nice": false, "zero": false}, "axis": {"orient": "bottom", "values": [0,6,12,18,24,30,36,42,48,54,60,66,72], "labels": false, "tickSize": -6, "domain": false, "grid": false, "title": null}},
  "y": {"field": "v", "type": "quantitative", "scale": {"type": "log", "domain": [0.001, 10000000], "nice": false}, "axis": {"orient": "left", "values": [0.01, 1, 100, 10000, 1000000], "ticks": false, "domain": false, "grid": false, "labelExpr": "'10' + ['⁻⁵','⁻⁴','⁻³','⁻²','⁻¹','⁰','¹','²','³','⁴','⁵','⁶','⁷'][round(log(datum.value)/LN10)+5]", "labelPadding": 5, "labelOffset": 4, "labelOverlap": false, "labelFlush": false, "title": "1/(cm² s sr MeV)", "titlePadding": 10}}}},
{"data": {"name": "a2"}, "mark": {"type": "point", "shape": "square", "filled": true, "size": 7, "opacity": 1, "strokeWidth": 0, "color": "#0000ff"},
 "encoding": {
  "x": {"field": "h", "type": "quantitative", "scale": {"domain": [0, 72], "nice": false, "zero": false}, "axis": {"orient": "top", "values": [0,6,12,18,24,30,36,42,48,54,60,66,72], "labels": false, "tickSize": -5, "domain": false, "grid": false, "title": null}},
  "y": {"field": "v", "type": "quantitative", "scale": {"type": "log", "domain": [0.001, 10000000], "nice": false}, "axis": {"orient": "left", "values": [0.001,0.01,0.1,1,10,100,1000,10000,100000,1000000,10000000], "labels": false, "domain": false, "grid": false, "title": null, "tickSize": {"condition": {"test": "round(log(datum.value)/LN10) % 2 == 0", "value": -15}, "value": -7}}}}},
{"data": {"values": [{"t": "0.035 to 0.065 MeV Electrons"}]}, "mark": {"type": "text", "align": "left", "baseline": "alphabetic", "fontSize": 13.5, "font": "DejaVu Sans", "color": "#000000"},
 "encoding": {
  "x": {"datum": 0, "type": "quantitative", "scale": {"domain": [0, 72], "nice": false, "zero": false}, "axis": null},
  "y": {"datum": 19000000, "type": "quantitative", "scale": {"type": "log", "domain": [0.001, 10000000], "nice": false}, "axis": {"orient": "right", "values": [0.001,0.01,0.1,1,10,100,1000,10000,100000,1000000,10000000], "labels": false, "domain": false, "grid": false, "title": null, "tickSize": {"condition": {"test": "round(log(datum.value)/LN10) % 2 == 0", "value": -14}, "value": -7}}},
  "text": {"field": "t"}}},
{"data": {"values": [{"t": "0.7 to 4.0 Mev Electrons"}]}, "mark": {"type": "text", "align": "left", "baseline": "alphabetic", "fontSize": 13.5, "font": "DejaVu Sans", "color": "#0000ff"},
 "encoding": {
  "x": {"datum": 25.65, "type": "quantitative", "scale": {"domain": [0, 72], "nice": false, "zero": false}, "axis": null},
  "y": {"datum": 19000000, "type": "quantitative", "scale": {"type": "log", "domain": [0.001, 10000000], "nice": false}, "axis": null},
  "text": {"field": "t"}}}
],
"resolve": {"axis": {"x": "independent", "y": "independent"}}
},
{
"width": 697, "height": 180,
"layer": [
{"data": {"name": "b1"}, "mark": {"type": "line", "color": "#000000", "strokeWidth": 2.4},
 "encoding": {
  "x": {"field": "h", "type": "quantitative", "scale": {"domain": [0, 72], "nice": false, "zero": false}, "axis": {"orient": "bottom", "values": [0,6,12,18,24,30,36,42,48,54,60,66,72], "labels": false, "tickSize": -6, "domain": false, "grid": false, "title": null}},
  "y": {"field": "v", "type": "quantitative", "scale": {"type": "log", "domain": [0.00001, 1000000], "nice": false}, "axis": {"orient": "left", "values": [0.0001, 0.01, 1, 100, 10000, 1000000], "ticks": false, "domain": false, "grid": false, "labelExpr": "'10' + ['⁻⁵','⁻⁴','⁻³','⁻²','⁻¹','⁰','¹','²','³','⁴','⁵','⁶','⁷'][round(log(datum.value)/LN10)+5]", "labelPadding": 5, "labelOffset": 4, "labelOverlap": false, "labelFlush": false, "title": "1/(cm² s sr MeV)", "titlePadding": 10}}}},
{"data": {"name": "b2"}, "mark": {"type": "line", "color": "#0000ff", "strokeWidth": 2.4},
 "encoding": {
  "x": {"field": "h", "type": "quantitative", "scale": {"domain": [0, 72], "nice": false, "zero": false}, "axis": {"orient": "top", "values": [0,6,12,18,24,30,36,42,48,54,60,66,72], "labels": false, "tickSize": -5, "domain": false, "grid": false, "title": null}},
  "y": {"field": "v", "type": "quantitative", "scale": {"type": "log", "domain": [0.00001, 1000000], "nice": false}, "axis": {"orient": "left", "values": [0.00001,0.0001,0.001,0.01,0.1,1,10,100,1000,10000,100000,1000000], "labels": false, "domain": false, "grid": false, "title": null, "tickSize": {"condition": {"test": "round(log(datum.value)/LN10) % 2 == 0", "value": -15}, "value": -7}}}}},
{"data": {"name": "b3d"}, "mark": {"type": "point", "shape": "square", "filled": true, "size": 7, "opacity": 1, "strokeWidth": 0, "color": "#c8826a"},
 "encoding": {
  "x": {"field": "h", "type": "quantitative", "scale": {"domain": [0, 72], "nice": false, "zero": false}, "axis": null},
  "y": {"field": "v", "type": "quantitative", "scale": {"type": "log", "domain": [0.00001, 1000000], "nice": false}, "axis": {"orient": "right", "values": [0.00001,0.0001,0.001,0.01,0.1,1,10,100,1000,10000,100000,1000000], "labels": false, "domain": false, "grid": false, "title": null, "tickSize": {"condition": {"test": "round(log(datum.value)/LN10) % 2 == 0", "value": -14}, "value": -7}}}}},
{"data": {"name": "b3l"}, "mark": {"type": "line", "color": "#c8826a", "strokeWidth": 2.4},
 "encoding": {
  "x": {"field": "h", "type": "quantitative", "scale": {"domain": [0, 72], "nice": false, "zero": false}, "axis": null},
  "y": {"field": "v", "type": "quantitative", "scale": {"type": "log", "domain": [0.00001, 1000000], "nice": false}, "axis": null}}},
{"data": {"name": "b4"}, "mark": {"type": "point", "shape": "square", "filled": true, "size": 7, "opacity": 1, "strokeWidth": 0, "color": "#ff0000"},
 "encoding": {
  "x": {"field": "h", "type": "quantitative", "scale": {"domain": [0, 72], "nice": false, "zero": false}, "axis": null},
  "y": {"field": "v", "type": "quantitative", "scale": {"type": "log", "domain": [0.00001, 1000000], "nice": false}, "axis": null}}},
{"data": {"values": [{"t": "0.14-0.62 MeV H"}]}, "mark": {"type": "text", "align": "left", "baseline": "alphabetic", "fontSize": 13.5, "font": "DejaVu Sans", "color": "#000000"},
 "encoding": {"x": {"datum": 0, "type": "quantitative", "axis": null}, "y": {"datum": 1800000, "type": "quantitative", "axis": null}, "text": {"field": "t"}}},
{"data": {"values": [{"t": "0.62-2.22 MeV H"}]}, "mark": {"type": "text", "align": "left", "baseline": "alphabetic", "fontSize": 13.5, "font": "DejaVu Sans", "color": "#0000ff"},
 "encoding": {"x": {"datum": 14.9, "type": "quantitative", "axis": null}, "y": {"datum": 1800000, "type": "quantitative", "axis": null}, "text": {"field": "t"}}},
{"data": {"values": [{"t": "2.2-12 MeV H"}]}, "mark": {"type": "text", "align": "left", "baseline": "alphabetic", "fontSize": 13.5, "font": "DejaVu Sans", "color": "#c8826a"},
 "encoding": {"x": {"datum": 29.8, "type": "quantitative", "axis": null}, "y": {"datum": 1800000, "type": "quantitative", "axis": null}, "text": {"field": "t"}}},
{"data": {"values": [{"t": "13-100 MeV H"}]}, "mark": {"type": "text", "align": "left", "baseline": "alphabetic", "fontSize": 13.5, "font": "DejaVu Sans", "color": "#ff0000"},
 "encoding": {"x": {"datum": 42.2, "type": "quantitative", "axis": null}, "y": {"datum": 1800000, "type": "quantitative", "axis": null}, "text": {"field": "t"}}}
],
"resolve": {"axis": {"x": "independent", "y": "independent"}}
},
{
"width": 697, "height": 180,
"layer": [
{"data": {"name": "c1"}, "mark": {"type": "point", "shape": "square", "filled": true, "size": 7, "opacity": 1, "strokeWidth": 0, "color": "#000000"},
 "encoding": {
  "x": {"field": "h", "type": "quantitative", "scale": {"domain": [0, 72], "nice": false, "zero": false}, "axis": {"orient": "bottom", "values": [0,6,12,18,24,30,36,42,48,54,60,66,72], "labels": false, "tickSize": -6, "domain": false, "grid": false, "title": null}},
  "y": {"field": "v", "type": "quantitative", "scale": {"type": "log", "domain": [0.001, 10000], "nice": false}, "axis": {"orient": "left", "values": [0.001, 0.01, 0.1, 1, 10, 100, 1000, 10000], "ticks": false, "domain": false, "grid": false, "labelExpr": "'10' + ['⁻⁵','⁻⁴','⁻³','⁻²','⁻¹','⁰','¹','²','³','⁴','⁵','⁶','⁷'][round(log(datum.value)/LN10)+5]", "labelPadding": 5, "labelOffset": 4, "labelOverlap": false, "labelFlush": false, "title": "1/(cm² s sr MeV/nuc.)", "titlePadding": 10}}}},
{"data": {"name": "c2"}, "mark": {"type": "point", "shape": "square", "filled": true, "size": 7, "opacity": 1, "strokeWidth": 0, "color": "#0000ff"},
 "encoding": {
  "x": {"field": "h", "type": "quantitative", "scale": {"domain": [0, 72], "nice": false, "zero": false}, "axis": {"orient": "top", "values": [0,6,12,18,24,30,36,42,48,54,60,66,72], "labels": false, "tickSize": -5, "domain": false, "grid": false, "title": null}},
  "y": {"field": "v", "type": "quantitative", "scale": {"type": "log", "domain": [0.001, 10000], "nice": false}, "axis": {"orient": "left", "values": [0.001, 0.01, 0.1, 1, 10, 100, 1000, 10000], "labels": false, "domain": false, "grid": false, "title": null, "tickSize": -15}}}},
{"data": {"name": "c3"}, "mark": {"type": "point", "shape": "square", "filled": true, "size": 7, "opacity": 1, "strokeWidth": 0, "color": "#ff0000"},
 "encoding": {
  "x": {"field": "h", "type": "quantitative", "scale": {"domain": [0, 72], "nice": false, "zero": false}, "axis": null},
  "y": {"field": "v", "type": "quantitative", "scale": {"type": "log", "domain": [0.001, 10000], "nice": false}, "axis": {"orient": "right", "values": [0.001, 0.01, 0.1, 1, 10, 100, 1000, 10000], "labels": false, "domain": false, "grid": false, "title": null, "tickSize": -14}}}},
{"data": {"values": [{"t": "0.12-1.08 MeV/n He"}]}, "mark": {"type": "text", "align": "left", "baseline": "alphabetic", "fontSize": 13.5, "font": "DejaVu Sans", "color": "#000000"},
 "encoding": {"x": {"datum": 0, "type": "quantitative", "axis": null}, "y": {"datum": 16500, "type": "quantitative", "axis": null}, "text": {"field": "t"}}},
{"data": {"values": [{"t": "0.12-1.08 MeV/n CNO"}]}, "mark": {"type": "text", "align": "left", "baseline": "alphabetic", "fontSize": 13.5, "font": "DejaVu Sans", "color": "#0000ff"},
 "encoding": {"x": {"datum": 17.4, "type": "quantitative", "axis": null}, "y": {"datum": 16500, "type": "quantitative", "axis": null}, "text": {"field": "t"}}},
{"data": {"values": [{"t": "0.12-1.08 MeV Fe"}]}, "mark": {"type": "text", "align": "left", "baseline": "alphabetic", "fontSize": 13.5, "font": "DejaVu Sans", "color": "#ff0000"},
 "encoding": {"x": {"datum": 35.6, "type": "quantitative", "axis": null}, "y": {"datum": 16500, "type": "quantitative", "axis": null}, "text": {"field": "t"}}}
],
"resolve": {"axis": {"x": "independent", "y": "independent"}}
},
{
"width": 697, "height": 180,
"layer": [
{"data": {"name": "d1"}, "mark": {"type": "point", "shape": "square", "filled": true, "size": 7, "opacity": 1, "strokeWidth": 0, "color": "#000000"},
 "encoding": {
  "x": {"field": "h", "type": "quantitative", "scale": {"domain": [0, 72], "nice": false, "zero": false}, "axis": {"orient": "bottom", "values": [0,6,12,18,24,30,36,42,48,54,60,66,72], "tickSize": -6, "labelExpr": "datum.value % 24 == 0 ? ['09-Nov','10-Nov','11-Nov','12-Nov'][datum.value / 24] : ''", "labelFontSize": 14, "labelPadding": 13, "labelFlush": false, "labelOverlap": false, "labelBound": false, "domain": false, "grid": false, "title": null}},
  "y": {"field": "v", "type": "quantitative", "scale": {"type": "log", "domain": [0.00001, 1000], "nice": false}, "axis": {"orient": "left", "values": [0.0001, 0.01, 1, 100], "ticks": false, "domain": false, "grid": false, "labelExpr": "'10' + ['⁻⁵','⁻⁴','⁻³','⁻²','⁻¹','⁰','¹','²','³','⁴','⁵','⁶','⁷'][round(log(datum.value)/LN10)+5]", "labelPadding": 5, "labelOffset": 4, "labelOverlap": false, "labelFlush": false, "title": "1/(cm² s sr MeV/nuc.)", "titlePadding": 10}}}},
{"data": {"name": "d2"}, "mark": {"type": "point", "shape": "square", "filled": true, "size": 7, "opacity": 1, "strokeWidth": 0, "color": "#0000ff"},
 "encoding": {
  "x": {"field": "h", "type": "quantitative", "scale": {"domain": [0, 72], "nice": false, "zero": false}, "axis": {"orient": "top", "values": [0,6,12,18,24,30,36,42,48,54,60,66,72], "labels": false, "tickSize": -5, "domain": false, "grid": false, "title": null}},
  "y": {"field": "v", "type": "quantitative", "scale": {"type": "log", "domain": [0.00001, 1000], "nice": false}, "axis": {"orient": "left", "values": [0.00001,0.0001,0.001,0.01,0.1,1,10,100,1000], "labels": false, "domain": false, "grid": false, "title": null, "tickSize": {"condition": {"test": "round(log(datum.value)/LN10) % 2 == 0", "value": -15}, "value": -7}}}}},
{"data": {"name": "d3"}, "mark": {"type": "point", "shape": "square", "filled": true, "size": 7, "opacity": 1, "strokeWidth": 0, "color": "#ff0000"},
 "encoding": {
  "x": {"field": "h", "type": "quantitative", "scale": {"domain": [0, 72], "nice": false, "zero": false}, "axis": null},
  "y": {"field": "v", "type": "quantitative", "scale": {"type": "log", "domain": [0.00001, 1000], "nice": false}, "axis": {"orient": "right", "values": [0.00001,0.0001,0.001,0.01,0.1,1,10,100,1000], "labels": false, "domain": false, "grid": false, "title": null, "tickSize": {"condition": {"test": "round(log(datum.value)/LN10) % 2 == 0", "value": -14}, "value": -7}}}}},
{"data": {"values": [{"t": "4 to 12 MeV/n He"}]}, "mark": {"type": "text", "align": "left", "baseline": "alphabetic", "fontSize": 13.5, "font": "DejaVu Sans", "color": "#000000"},
 "encoding": {"x": {"datum": 0, "type": "quantitative", "axis": null}, "y": {"datum": 1700, "type": "quantitative", "axis": null}, "text": {"field": "t"}}},
{"data": {"values": [{"t": "4 to 12 MeV/n CNO"}]}, "mark": {"type": "text", "align": "left", "baseline": "alphabetic", "fontSize": 13.5, "font": "DejaVu Sans", "color": "#0000ff"},
 "encoding": {"x": {"datum": 15.8, "type": "quantitative", "axis": null}, "y": {"datum": 1700, "type": "quantitative", "axis": null}, "text": {"field": "t"}}},
{"data": {"values": [{"t": "4 to 12 MeV Fe"}]}, "mark": {"type": "text", "align": "left", "baseline": "alphabetic", "fontSize": 13.5, "font": "DejaVu Sans", "color": "#ff0000"},
 "encoding": {"x": {"datum": 32.4, "type": "quantitative", "axis": null}, "y": {"datum": 1700, "type": "quantitative", "axis": null}, "text": {"field": "t"}}},
{"data": {"values": [{"t": "STEREO Ahead"}]}, "mark": {"type": "text", "align": "left", "baseline": "alphabetic", "fontSize": 13.5, "font": "DejaVu Sans", "color": "#000000"},
 "encoding": {"x": {"datum": 0, "type": "quantitative", "axis": null}, "y": {"datum": 0.00000028, "type": "quantitative", "axis": null}, "text": {"field": "t"}}},
{"data": {"values": [{"t": "Start:\u00a0 9-Nov-2017 00:00 UTC"}]}, "mark": {"type": "text", "align": "left", "baseline": "alphabetic", "fontSize": 13.5, "font": "DejaVu Sans", "color": "#000000"},
 "encoding": {"x": {"datum": 22.04, "type": "quantitative", "axis": null}, "y": {"datum": 0.00000028, "type": "quantitative", "axis": null}, "text": {"field": "t"}}}
],
"resolve": {"axis": {"x": "independent", "y": "independent"}}
}
],
"config": {
 "view": {"stroke": "#000000", "strokeWidth": 1},
 "axis": {"labelFont": "DejaVu Sans", "titleFont": "DejaVu Sans", "labelColor": "#000000", "titleColor": "#000000", "tickColor": "#000000", "tickWidth": 1, "grid": false, "domain": false, "labelFontSize": 12, "titleFontSize": 13.5, "titleFontWeight": "normal"},
 "text": {"font": "DejaVu Sans", "fontSize": 13.5}
}
}
